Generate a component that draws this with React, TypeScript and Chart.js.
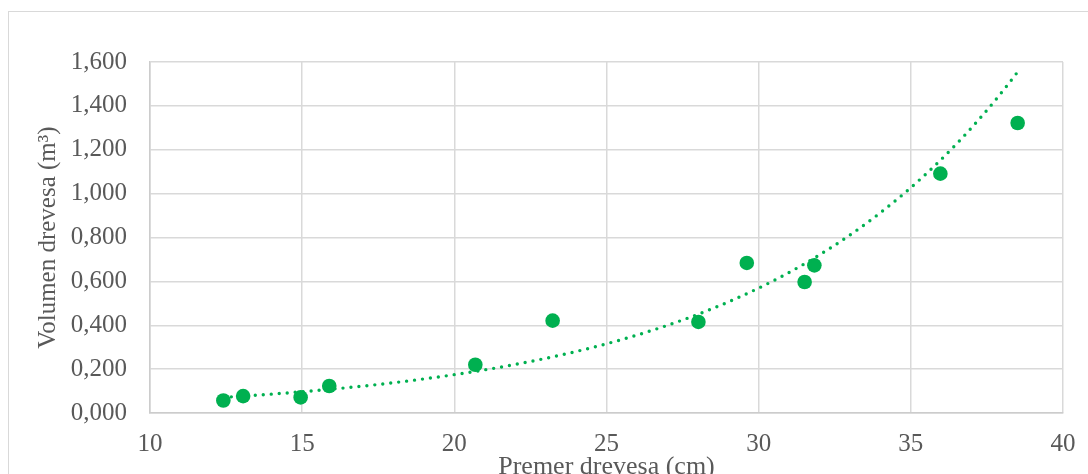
import React, { useEffect, useRef } from "react";
import { Chart, registerables } from "chart.js";

Chart.register(...registerables);

// Data
const diameterCm = [12.41, 13.06, 14.95, 15.89, 20.69, 23.23, 28.02, 29.61, 31.51, 31.83, 35.97, 38.51];
const volumeM3 = [0.057, 0.077, 0.071, 0.123, 0.22, 0.421, 0.415, 0.684, 0.597, 0.673, 1.091, 1.322];

const xTitle = "Premer drevesa (cm)";
const yTitle = "Volumen drevesa (m³)";

const GREEN = "#00B050";
const GRID = "#D9D9D9";
const TEXT = "#595959";
const FONT = "'Liberation Serif', 'Times New Roman', serif";

// Exponential trendline (least squares on ln y), as a spreadsheet computes it
function expTrend(xs: number[], ys: number[], samples: number) {
  const n = xs.length;
  const ly = ys.map((v) => Math.log(v));
  const mx = xs.reduce((a, b) => a + b, 0) / n;
  const my = ly.reduce((a, b) => a + b, 0) / n;
  let sxx = 0;
  let sxy = 0;
  for (let i = 0; i < n; i++) {
    sxx += (xs[i] - mx) ** 2;
    sxy += (xs[i] - mx) * (ly[i] - my);
  }
  const b = sxy / sxx;
  const lnA = my - b * mx;
  const x0 = Math.min(...xs);
  const x1 = Math.max(...xs);
  const pts: { x: number; y: number }[] = [];
  for (let i = 0; i <= samples; i++) {
    const x = x0 + ((x1 - x0) * i) / samples;
    pts.push({ x, y: Math.exp(lnA + b * x) });
  }
  return pts;
}

export default function App() {
  const ref = useRef<HTMLCanvasElement | null>(null);

  useEffect(() => {
    document.documentElement.style.overflow = "hidden";
    document.body.style.overflow = "hidden";
    if (!ref.current) return;
    const points = diameterCm.map((x, i) => ({ x, y: volumeM3[i] }));
    const trend = expTrend(diameterCm, volumeM3, 200);
    const chart = new Chart(ref.current, {
      type: "scatter",
      data: {
        datasets: [
          {
            label: "Trend",
            data: trend,
            showLine: true,
            borderColor: GREEN,
            borderWidth: 3.4,
            borderDash: [0, 8],
            borderCapStyle: "round",
            pointRadius: 0,
            pointHoverRadius: 0,
            tension: 0,
          } as any,
          {
            label: "Volumen",
            data: points,
            backgroundColor: GREEN,
            borderColor: GREEN,
            borderWidth: 0,
            pointRadius: 7.3,
          },
        ],
      },
      options: {
        responsive: false,
        animation: false,
        devicePixelRatio: 1,
        layout: { padding: { top: 48, right: 46, bottom: 0, left: 0 } },
        plugins: { legend: { display: false }, tooltip: { enabled: false } },
        scales: {
          x: {
            type: "linear",
            min: 10,
            max: 40,
            ticks: {
              stepSize: 5,
              color: TEXT,
              font: { family: FONT, size: 25 },
              padding: 16,
              maxRotation: 0,
            },
            grid: { color: GRID, lineWidth: 1.5, drawTicks: false },
            border: { color: "#CCCCCC", width: 1.5 },
            title: {
              display: true,
              text: xTitle,
              color: TEXT,
              font: { family: FONT, size: 26 },
              padding: { top: 0, bottom: 11 },
            },
            afterFit: (s: any) => {
              s.height = 81;
            },
          },
          y: {
            type: "linear",
            min: 0,
            max: 1.6,
            ticks: {
              stepSize: 0.2,
              color: TEXT,
              font: { family: FONT, size: 25 },
              padding: 23,
              callback: (v: any) => Number(v).toFixed(3).replace(".", ","),
            },
            grid: { color: GRID, lineWidth: 1.5, drawTicks: false },
            border: { color: "#CCCCCC", width: 1.5 },
            title: {
              display: true,
              text: yTitle,
              color: TEXT,
              font: { family: FONT, size: 25 },
              padding: { top: 24, bottom: 0 },
            },
            afterFit: (s: any) => {
              s.width = 141;
            },
          },
        },
      },
    });
    return () => chart.destroy();
  }, []);

  return (
    <div
      style={{
        position: "fixed",
        left: 8,
        top: 11,
        width: 1100,
        height: 480,
        border: "1.5px solid #D9D9D9",
        background: "#fff",
      }}
    >
      <canvas
        ref={ref}
        width={1100}
        height={480}
        style={{ display: "block", position: "relative", top: 2 }}
      />
    </div>
  );
}
